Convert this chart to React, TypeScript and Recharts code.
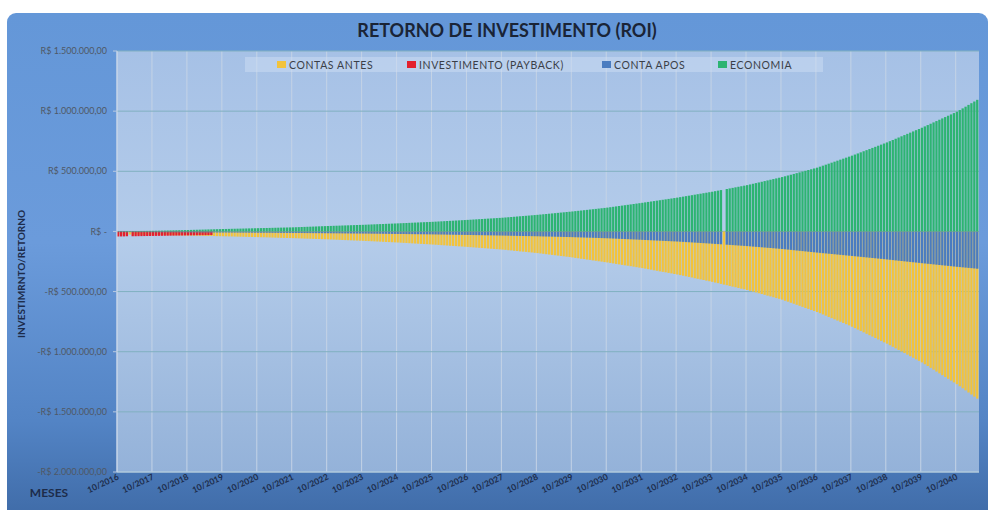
import { BarChart, Bar, XAxis, YAxis, CartesianGrid, Legend } from "recharts";

// valores mensais em milhares de R$, a partir de 10/2016
const contasAntes = [
  -24.5, -24.9, -25.2, -25.6, -26.0, -26.3, -26.7, -27.1, -27.4, -27.8, -28.2, -28.5,
  -28.9, -29.3, -29.8, -30.2, -30.6, -31.1, -31.5, -31.9, -32.4, -32.8, -33.2, -33.7,
  -34.1, -34.6, -35.1, -35.6, -36.1, -36.6, -37.1, -37.7, -38.2, -38.7, -39.2, -39.7,
  -40.2, -40.8, -41.4, -42.0, -42.6, -43.2, -43.8, -44.4, -45.0, -45.6, -46.2, -46.8,
  -47.4, -48.1, -48.8, -49.5, -50.2, -50.9, -51.7, -52.4, -53.1, -53.8, -54.5, -55.2,
  -55.9, -56.7, -57.6, -58.4, -59.3, -60.1, -61.0, -61.8, -62.6, -63.5, -64.3, -65.2,
  -66, -67, -68, -69, -70, -71, -72, -73, -74, -75, -76, -77,
  -78.0, -79.2, -80.4, -81.5, -82.7, -83.9, -85.1, -86.3, -87.5, -88.6, -89.8, -91.0,
  -92.2, -93.6, -95.0, -96.4, -97.8, -99.2, -100.6, -102.0, -103.4, -104.8, -106.2, -107.6,
  -109.0, -110.7, -112.3, -114.0, -115.6, -117.3, -118.9, -120.6, -122.2, -123.9, -125.5, -127.2,
  -128.8, -130.7, -132.5, -134.4, -136.2, -138.1, -139.9, -141.8, -143.6, -145.5, -147.3, -149.2,
  -151, -153, -156, -158, -161, -163, -166, -168, -170, -173, -175, -178,
  -180, -183, -186, -189, -192, -195, -198, -201, -204, -207, -210, -213,
  -216, -220, -223, -227, -230, -234, -237, -241, -244, -248, -251, -255,
  -258, -262, -266, -270, -274, -278, -282, -285, -289, -293, -297, -301,
  -305, -309, -314, -318, -323, -327, -332, -336, -340, -345, -349, -354,
  -358, -363, -368, -373, -378, -383, -389, -394, -399, -404, -409, -414,
  -419, -425, -430, -436, -442, -447, -453, -459, -464, -470, -476, -481,
  -487, -494, -500, -507, -514, -520, -527, -534, -540, -547, -554, -560,
  -567, -576, -584, -593, -601, -610, -618, -627, -636, -644, -653, -661,
  -670, -680, -690, -700, -711, -721, -731, -741, -751, -761, -771, -781,
  -792, -804, -816, -827, -839, -851, -863, -874, -886, -898, -910, -922,
  -933, -946, -959, -972, -985, -998, -1011, -1024, -1037, -1050, -1063, -1076,
  -1089, -1104, -1119, -1134, -1149, -1165, -1180, -1195, -1210, -1225, -1240, -1255,
  -1270, -1287, -1304, -1321, -1339, -1356, -1373, -1390,
];

const investimento = [
  -42.0, -41.6, -41.3, -40.9, null, -40.1, -39.8, -39.4, -39.0, -38.6, -38.3, -37.9,
  -37.5, -37.1, -36.8, -36.4, -36.0, -35.6, -35.3, -34.9, -34.5, -34.1, -33.8, -33.4,
  -33.0, -32.6, -32.3, -31.9, -31.5, -31.1, -30.8, -30.4, -30.0,
];

const contaApos = [
  -5.6, -5.7, -5.8, -5.8, -5.9, -6.0, -6.1, -6.2, -6.3, -6.3, -6.4, -6.5,
  -6.6, -6.7, -6.8, -6.9, -7.0, -7.1, -7.2, -7.3, -7.4, -7.5, -7.6, -7.7,
  -7.8, -7.9, -8.0, -8.2, -8.3, -8.4, -8.5, -8.6, -8.7, -8.9, -9.0, -9.1,
  -9.2, -9.3, -9.5, -9.6, -9.8, -9.9, -10.1, -10.2, -10.3, -10.5, -10.6, -10.8,
  -10.9, -11.1, -11.2, -11.4, -11.5, -11.7, -11.9, -12.0, -12.2, -12.3, -12.5, -12.6,
  -12.8, -13.0, -13.2, -13.4, -13.6, -13.8, -13.9, -14.1, -14.3, -14.5, -14.7, -14.9,
  -15.1, -15.3, -15.6, -15.8, -16.0, -16.2, -16.5, -16.7, -16.9, -17.1, -17.4, -17.6,
  -17.8, -18.1, -18.3, -18.6, -18.9, -19.1, -19.4, -19.7, -19.9, -20.2, -20.5, -20.7,
  -21.0, -21.3, -21.6, -22.0, -22.3, -22.6, -22.9, -23.2, -23.5, -23.9, -24.2, -24.5,
  -24.8, -25.2, -25.6, -25.9, -26.3, -26.7, -27.1, -27.5, -27.9, -28.2, -28.6, -29.0,
  -29.4, -29.8, -30.3, -30.7, -31.1, -31.5, -32.0, -32.4, -32.8, -33.2, -33.7, -34.1,
  -34.5, -35.0, -35.5, -36.0, -36.5, -37.0, -37.5, -38.0, -38.5, -39.0, -39.5, -40.0,
  -40.5, -41.1, -41.7, -42.3, -42.8, -43.4, -44.0, -44.6, -45.2, -45.8, -46.3, -46.9,
  -47.5, -48.3, -49.1, -49.9, -50.7, -51.5, -52.3, -53.0, -53.8, -54.6, -55.4, -56.2,
  -57.0, -58.1, -59.2, -60.3, -61.3, -62.4, -63.5, -64.6, -65.7, -66.8, -67.8, -68.9,
  -70.0, -71.2, -72.3, -73.5, -74.7, -75.8, -77.0, -78.2, -79.3, -80.5, -81.7, -82.8,
  -84, -85.5, -87, -88.5, -90, -91.5, -93, -94.5, -96, -97.5, -99, -100.5,
  -102, -103.7, -105.3, -107, null, -110.3, -112, -113.7, -115.3, -117, -118.7, -120.3,
  -122, -124, -126, -128, -130, -132, -134, -136, -138, -140, -142, -144,
  -146, -148.5, -151, -153.5, -156, -158.5, -161, -163.5, -166, -168.5, -171, -173.5,
  -176, -178.3, -180.7, -183, -185.3, -187.7, -190, -192.3, -194.7, -197, -199.3, -201.7,
  -204, -206.4, -208.8, -211.3, -213.7, -216.1, -218.5, -220.9, -223.3, -225.8, -228.2, -230.6,
  -233, -235.6, -238.2, -240.8, -243.3, -245.9, -248.5, -251.1, -253.7, -256.3, -258.8, -261.4,
  -264, -266.5, -269, -271.5, -274, -276.5, -279, -281.5, -284, -286.5, -289, -291.5,
  -294, -296.3, -298.6, -300.9, -303.1, -305.4, -307.7, -310,
];

const economia = [
  2.0, 2.3, 2.5, 2.8, 3.0, 3.3, 3.5, 3.8, 4.0, 4.3, 4.5, 4.8,
  5.0, 5.6, 6.2, 6.8, 7.3, 7.9, 8.5, 9.1, 9.7, 10.3, 10.8, 11.4,
  12.0, 12.7, 13.3, 14.0, 14.7, 15.3, 16.0, 16.7, 17.3, 18.0, 18.7, 19.3,
  20.0, 20.6, 21.2, 21.8, 22.3, 22.9, 23.5, 24.1, 24.7, 25.3, 25.8, 26.4,
  27.0, 27.6, 28.2, 28.8, 29.3, 29.9, 30.5, 31.1, 31.7, 32.3, 32.8, 33.4,
  34.0, 34.9, 35.8, 36.8, 37.7, 38.6, 39.5, 40.4, 41.3, 42.3, 43.2, 44.1,
  45.0, 45.8, 46.7, 47.5, 48.3, 49.2, 50.0, 50.8, 51.7, 52.5, 53.3, 54.2,
  55, 56, 57, 58, 59, 60, 61, 62, 63, 64, 65, 66,
  67.0, 68.1, 69.2, 70.3, 71.3, 72.4, 73.5, 74.6, 75.7, 76.8, 77.8, 78.9,
  80.0, 81.3, 82.7, 84.0, 85.3, 86.7, 88.0, 89.3, 90.7, 92.0, 93.3, 94.7,
  96, 97.5, 99, 100.5, 102, 103.5, 105, 106.5, 108, 109.5, 111, 112.5,
  114, 116, 118, 120, 122, 124, 126, 128, 130, 132, 134, 136,
  138, 140.3, 142.7, 145, 147.3, 149.7, 152, 154.3, 156.7, 159, 161.3, 163.7,
  166, 168.7, 171.3, 174, 176.7, 179.3, 182, 184.7, 187.3, 190, 192.7, 195.3,
  198, 201.3, 204.7, 208, 211.3, 214.7, 218, 221.3, 224.7, 228, 231.3, 234.7,
  238, 241.6, 245.2, 248.8, 252.3, 255.9, 259.5, 263.1, 266.7, 270.3, 273.8, 277.4,
  281, 285.1, 289.2, 293.3, 297.3, 301.4, 305.5, 309.6, 313.7, 317.8, 321.8, 325.9,
  330, 334.6, 339.2, 343.8, null, 352.9, 357.5, 362.1, 366.7, 371.3, 375.8, 380.4,
  385, 390.6, 396.2, 401.8, 407.3, 412.9, 418.5, 424.1, 429.7, 435.3, 440.8, 446.4,
  452, 458.5, 465, 471.5, 478, 484.5, 491, 497.5, 504, 510.5, 517, 523.5,
  530, 538.3, 546.7, 555, 563.3, 571.7, 580, 588.3, 596.7, 605, 613.3, 621.7,
  630, 639.2, 648.3, 657.5, 666.7, 675.8, 685, 694.2, 703.3, 712.5, 721.7, 730.8,
  740, 750.2, 760.3, 770.5, 780.7, 790.8, 801, 811.2, 821.3, 831.5, 841.7, 851.8,
  862, 873.1, 884.2, 895.3, 906.3, 917.4, 928.5, 939.6, 950.7, 961.8, 972.8, 983.9,
  995, 1009, 1023, 1037, 1052, 1066, 1080, 1094,
];

const yTicks = [1500000, 1000000, 500000, 0, -500000, -1000000, -1500000, -2000000];

// rótulos mm/aaaa a partir de 10/2016
const meses = contasAntes.map((_, i) => {
  const n = 9 + i;
  return `${String((n % 12) + 1).padStart(2, "0")}/${2016 + Math.floor(n / 12)}`;
});

const YELLOW = "#f2c33c";
const RED = "#e3202e";
const BLUE = "#4a7cc0";
const GREEN = "#2db472";

const legendItems = [
  { label: "CONTAS ANTES", color: YELLOW, left: 32 },
  { label: "INVESTIMENTO (PAYBACK)", color: RED, left: 162 },
  { label: "CONTA APOS", color: BLUE, left: 357 },
  { label: "ECONOMIA", color: GREEN, left: 473 },
];

const k = (v: number | null | undefined) => (v == null ? null : v * 1000);

const data = meses.map((mes, i) => ({
  mes,
  antes: k(contasAntes[i]),
  invest: k(investimento[i]),
  apos: k(contaApos[i]),
  economia: k(economia[i]),
}));

function brl(v: number) {
  if (v === 0) return "R$ -    ";
  const [int, dec] = Math.abs(v).toFixed(2).split(".");
  return `${v < 0 ? "-" : ""}R$ ${int.replace(/\B(?=(\d{3})+(?!\d))/g, ".")},${dec}`;
}

const FONT = "Lato, 'Open Sans', sans-serif";

function MonthTick({ x, y, payload }: any) {
  return (
    <g transform={`translate(${x + 1},${y + 7})`}>
      <text
        textAnchor="end"
        transform="rotate(-25)"
        fontSize={8.5}
        fontWeight={700}
        fontFamily={FONT}
        fill="#1d2c4a"
      >
        {payload.value}
      </text>
    </g>
  );
}

function LegendBox() {
  return (
    <div
      style={{
        position: "relative",
        width: 578,
        height: 15,
        background: "rgba(205,222,244,0.5)",
        fontFamily: FONT,
        fontSize: 10.5,
        color: "#3a3f48",
        letterSpacing: 0.6,
      }}
    >
      {legendItems.map((it) => (
        <div
          key={it.label}
          style={{ position: "absolute", left: it.left, top: 0, height: 15, display: "flex", alignItems: "center", whiteSpace: "nowrap" }}
        >
          <span style={{ display: "inline-block", width: 9, height: 7, background: it.color, marginRight: 3 }} />
          {it.label}
        </div>
      ))}
    </div>
  );
}

// linhas verticais a cada 12 meses, na borda das categorias
const gridX = (props: any) => {
  const off = props?.offset;
  if (!off) return [];
  const step = off.width / meses.length;
  return meses.map((_, i) => i).filter((i) => i % 12 === 0).map((i) => off.left + i * step);
};

export default function App() {
  return (
    <div style={{ position: "absolute", left: 0, top: 0, width: 989, height: 510, background: "#fff", overflow: "hidden" }}>
      <div
        style={{
          position: "absolute",
          left: 7,
          top: 13,
          width: 981,
          height: 510,
          borderRadius: 9,
          background: "linear-gradient(180deg, #6497d8 0%, #6b9bdb 45%, #5384c5 80%, #3e6aa6 100%)",
        }}
      />
      <div
        style={{
          position: "absolute",
          left: 0,
          top: 19,
          width: 1014,
          textAlign: "center",
          fontFamily: FONT,
          fontWeight: 700,
          fontSize: 18,
          color: "#1a2436",
        }}
      >
        RETORNO DE INVESTIMENTO (ROI)
      </div>
      <div style={{ position: "absolute", left: 0, top: 0 }}>
        <BarChart
          width={989}
          height={510}
          data={data}
          margin={{ top: 51, right: 10, bottom: 0, left: 0 }}
          barSize={2.3}
          barGap={-2.3}
          barCategoryGap={0}
        >
          <defs>
            <linearGradient id="plotBg" x1="0" y1="0" x2="0" y2="1">
              <stop offset="0%" stopColor="#a6c1e6" />
              <stop offset="45%" stopColor="#b4ccea" />
              <stop offset="100%" stopColor="#94b2d9" />
            </linearGradient>
          </defs>
          <CartesianGrid
            fill="url(#plotBg)"
            fillOpacity={1}
            horizontal={false}
            stroke="#c4d3e6"
            verticalCoordinatesGenerator={gridX}
          />
          <CartesianGrid vertical={false} stroke="#80b0c0" />
          <XAxis
            dataKey="mes"
            interval={11}
            height={38}
            tick={<MonthTick />}
            tickLine={false}
            tickSize={0}
            tickMargin={0}
            axisLine={{ stroke: "#c9d7ea" }}
            label={{
              content: () => (
                <text x={49} y={497} textAnchor="middle" fontFamily={FONT} fontWeight={700} fontSize={12} fill="#1d2c4a">
                  MESES
                </text>
              ),
            }}
          />
          <YAxis
            width={117}
            domain={[-2000000, 1500000]}
            ticks={yTicks}
            interval={0}
            tickFormatter={brl}
            tick={{ fontSize: 9, fill: "#4f5866", fontFamily: FONT }}
            tickSize={4}
            tickMargin={6}
            tickLine={{ stroke: "#b8c9e0" }}
            axisLine={{ stroke: "#c9d7ea" }}
            label={{
              content: () => (
                <text
                  x={25}
                  y={274}
                  transform="rotate(-90 25 274)"
                  textAnchor="middle"
                  fontFamily={FONT}
                  fontWeight={700}
                  fontSize={10}
                  fill="#1d2c4a"
                >
                  INVESTIMRNTO/RETORNO
                </text>
              ),
            }}
          />
          <Legend
            verticalAlign="middle"
            align="center"
            content={() => <LegendBox />}
            wrapperStyle={{ left: 245, top: 57, width: 578, height: 15 }}
          />
          <Bar dataKey="antes" name="CONTAS ANTES" fill={YELLOW} isAnimationActive={false} />
          <Bar dataKey="invest" name="INVESTIMENTO (PAYBACK)" fill={RED} isAnimationActive={false} />
          <Bar dataKey="apos" name="CONTA APOS" fill={BLUE} isAnimationActive={false} />
          <Bar dataKey="economia" name="ECONOMIA" fill={GREEN} isAnimationActive={false} />
        </BarChart>
      </div>
    </div>
  );
}
